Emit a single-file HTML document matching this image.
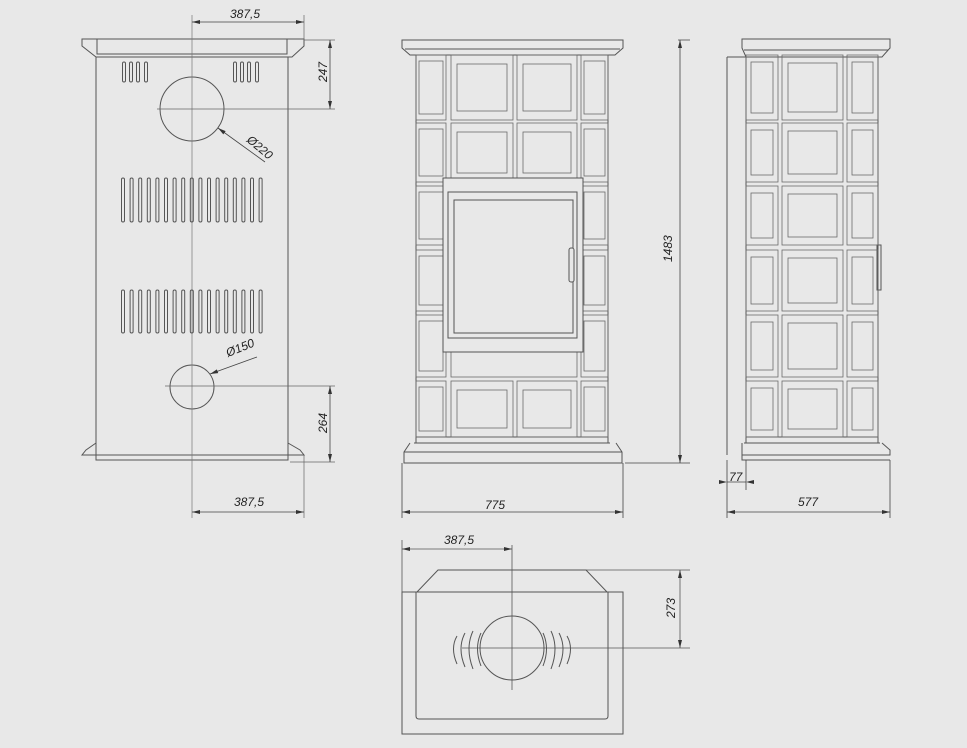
<!DOCTYPE html>
<html><head><meta charset="utf-8"><style>
html,body{margin:0;padding:0;background:#e8e8e8;}
svg{display:block}
text{font-family:"Liberation Sans",sans-serif;font-size:12px;fill:#222;font-style:italic}
</style></head><body>
<svg id="s" width="967" height="748" viewBox="0 0 967 748" xmlns="http://www.w3.org/2000/svg">
<rect width="967" height="748" fill="#e8e8e8"/>
<g id="g" fill="none" stroke="#555" stroke-width="1">
<path d="M82,39 L304,39 L304,46 L292,57 L96,57 L82,46 Z"/>
<rect x="97" y="39" width="190" height="15"/>
<path d="M96,57 L96,455 M288,57 L288,455"/>
<path d="M96,443 L86,450 L82,455 L304,455 L300,450 L288,443"/>
<path d="M96,455 L96,460 L288,460 L288,455"/>
<circle cx="192" cy="109" r="32"/>
<circle cx="192" cy="387" r="22"/>
<path d="M192,15 L192,518" stroke="#777" stroke-width="0.7"/>
<path d="M157,109 L335,109 M165,386 L335,386 M290,462 L335,462 M304,40 L335,40 M304,15 L304,40 M304,455 L304,518" stroke="#666" stroke-width="0.7"/>
<path d="M192,22 L304,22 M192,512 L304,512 M330,40 L330,109 M330,386 L330,462" stroke="#444" stroke-width="0.8"/>
<path d="M218,128 L265,162 M210,374 L257,357" stroke="#444" stroke-width="0.8"/>
<path d="M402,40 L623,40 L623,48 L615,55 L410,55 L402,48 Z"/>
<path d="M405,49 L620,49"/>
<path d="M416,55 L416,443 M608,55 L608,443"/>
<path d="M416,437 L608,437 M414,443 L610,443"/>
<path d="M410,443 L404,452 L404,463 L622,463 L622,452 L616,443"/>
<path d="M404,452 L622,452"/>
<path d="M678,40 L690,40 M625,463 L690,463 M680,40 L680,463 M402,463 L402,518 M623,463 L623,518 M402,512 L623,512" stroke="#444" stroke-width="0.8"/>
<path d="M742,39 L890,39 L890,48 L882,57 L746,57 L742,48 Z"/>
<path d="M744,50 L888,50"/>
<path d="M727,57 L746,57 M727,57 L727,455"/>
<path d="M746,57 L746,443 M878,57 L878,443"/>
<path d="M746,437 L878,437 M744,443 L880,443"/>
<path d="M742,443 L742,455 L890,455 L890,450 L882,443 M742,455 L742,460 L890,460"/>
<rect x="877" y="245" width="4" height="45"/>
<path d="M727,460 L727,518 M746,460 L746,490 M890,460 L890,518 M727,482 L746,482 M727,512 L890,512" stroke="#444" stroke-width="0.8"/>
<rect x="402" y="592" width="221" height="142"/>
<path d="M416,592 L416,716 Q416,719 419,719 L605,719 Q608,719 608,716 L608,592"/>
<path d="M402,592 L417,592 L438,570 L586,570 L607,592 L623,592"/>
<circle cx="512" cy="648" r="32"/>
<path d="M512,545 L512,690 M462,648 L690,648 M586,570 L690,570 M680,570 L680,648 M402,540 L402,592 M402,549 L512,549" stroke="#555" stroke-width="0.8"/>
<path d="M457,636 Q450,648 457,664 M465,633 Q457,648 465,667 M473,631 Q465,648 473,669 M481,633 Q474,648 481,666" />
<path d="M567,636 Q574,648 567,664 M559,633 Q567,648 559,667 M551,631 Q559,648 551,669 M543,633 Q550,648 543,666" />
</g>
<g id="t" fill="none" stroke="#6a6a6a" stroke-width="0.8"></g>
<g id="d" fill="#e8e8e8" stroke="#555" stroke-width="1">
<rect x="443" y="178" width="140" height="174"/>
<rect x="448" y="192" width="129" height="146"/>
<rect x="454" y="200" width="119" height="133"/>
<rect x="569" y="248" width="5" height="34" rx="2"/>
</g>
<g id="a" fill="#333"></g>
<text x="230" y="18">387,5</text>
<text x="234" y="506">387,5</text>
<text x="485" y="509">775</text>
<text x="798" y="506">577</text>
<text x="729" y="481">77</text>
<text x="444" y="544">387,5</text>
<text transform="translate(327,82) rotate(-90)">247</text>
<text transform="translate(327,433) rotate(-90)">264</text>
<text transform="translate(672,262) rotate(-90)">1483</text>
<text transform="translate(675,618) rotate(-90)">273</text>
<text transform="translate(246,141) rotate(40)">Ø220</text>
<text transform="translate(228,357) rotate(-22)">Ø150</text>
</svg>
<script>
var g=document.getElementById('g'),t=document.getElementById('t'),a=document.getElementById('a'),NS='http://www.w3.org/2000/svg';
function el(p,tg,o){var e=document.createElementNS(NS,tg);for(var k in o)e.setAttribute(k,o[k]);p.appendChild(e);}
function slot(x,y1,y2){el(g,'rect',{x:x-1.5,y:y1,width:3,height:y2-y1,rx:1.5});}
[124,131,138,146,235,242,249,257].forEach(function(x){slot(x,62,82);});
for(var i=0;i<17;i++){var x=123+i*8.6;slot(x,178,222);slot(x,290,333);}
var fc=[[416,446],[451,513],[517,577],[581,608]];
var fr=[[55,120],[123,182],[186,245],[250,311],[315,377],[381,437]];
fc.forEach(function(c,ci){fr.forEach(function(r,ri){
 var inDoor=(ci==1||ci==2)&&ri>=2&&ri<=4; if(inDoor) return;
 var m=(ci==0||ci==3)?3:6;
 el(t,'rect',{x:c[0],y:r[0],width:c[1]-c[0],height:r[1]-r[0]});
 el(t,'rect',{x:c[0]+m,y:r[0]+m+3,width:c[1]-c[0]-2*m,height:r[1]-r[0]-2*m-6});
});});
el(t,'rect',{x:451,y:352,width:126,height:25});
var sc=[[746,778],[782,843],[847,878]];
sc.forEach(function(c,ci){fr.forEach(function(r){
 var m=ci==1?6:5;
 el(t,'rect',{x:c[0],y:r[0],width:c[1]-c[0],height:r[1]-r[0]});
 el(t,'rect',{x:c[0]+m,y:r[0]+m+2,width:c[1]-c[0]-2*m,height:r[1]-r[0]-2*m-4});
});});
function arr(x,y,dx,dy){var px=-dy,py=dx;el(a,'path',{d:'M'+x+','+y+' L'+(x-dx*8+px*2)+','+(y-dy*8+py*2)+' L'+(x-dx*8-px*2)+','+(y-dy*8-py*2)+'Z'});}
arr(192,22,-1,0);arr(304,22,1,0);arr(192,512,-1,0);arr(304,512,1,0);
arr(330,40,0,-1);arr(330,109,0,1);arr(330,386,0,-1);arr(330,462,0,1);
arr(680,40,0,-1);arr(680,463,0,1);arr(402,512,-1,0);arr(623,512,1,0);
arr(727,512,-1,0);arr(890,512,1,0);arr(727,482,1,0);arr(746,482,-1,0);
arr(402,549,-1,0);arr(512,549,1,0);arr(680,570,0,-1);arr(680,648,0,1);
arr(218,128,-0.81,-0.59);arr(210,374,-0.94,0.34);
</script>
</body></html>
